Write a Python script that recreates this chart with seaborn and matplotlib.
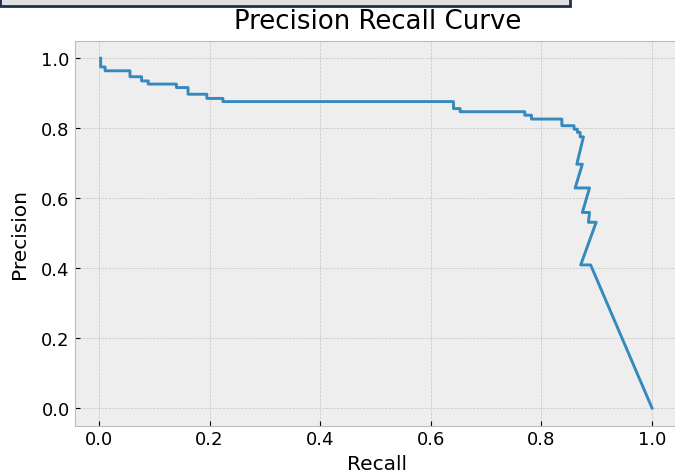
import matplotlib
matplotlib.use("Agg")
import matplotlib.pyplot as plt
from matplotlib.patches import Rectangle
import seaborn as sns
import pandas as pd

# Precision / recall pairs along the curve, in drawing order
recall = [0.003, 0.003, 0.011, 0.011, 0.056, 0.056, 0.077, 0.077, 0.089, 0.089,
          0.140, 0.140, 0.161, 0.161, 0.195, 0.195, 0.224, 0.224, 0.641, 0.641,
          0.653, 0.653, 0.770, 0.770, 0.782, 0.782, 0.837, 0.837, 0.859, 0.859,
          0.865, 0.865, 0.870, 0.870, 0.876, 0.864, 0.874, 0.861, 0.887, 0.874,
          0.887, 0.885, 0.899, 0.871, 0.889, 1.000]
precision = [1.000, 0.975, 0.975, 0.964, 0.964, 0.947, 0.947, 0.935, 0.935, 0.926,
             0.926, 0.916, 0.916, 0.897, 0.897, 0.885, 0.885, 0.876, 0.876, 0.856,
             0.856, 0.847, 0.847, 0.837, 0.837, 0.826, 0.826, 0.807, 0.807, 0.797,
             0.797, 0.788, 0.788, 0.775, 0.775, 0.697, 0.697, 0.629, 0.629, 0.559,
             0.559, 0.531, 0.531, 0.409, 0.409, 0.000]
ticks = [0.0, 0.2, 0.4, 0.6, 0.8, 1.0]

df = pd.DataFrame({"Recall": recall, "Precision": precision})

plt.style.use("bmh")
plt.rcParams["font.size"] = 13
plt.rcParams["grid.color"] = "#c4c4c4"

W, H = 675, 477
fig = plt.figure(figsize=(W / 100, H / 100), dpi=100)

# axes placed in pixel units (right edge runs past the canvas)
left_px, right_px, top_px, bottom_px = 74.5, 680.0, 41.7, 426.5
ax = fig.add_axes([left_px / W, 1 - bottom_px / H,
                   (right_px - left_px) / W, (bottom_px - top_px) / H])

sns.lineplot(data=df, x="Recall", y="Precision", sort=False, estimator=None,
             ax=ax, linewidth=2.1)

ax.set_xlim(-0.0443, 1.0506)
ax.set_ylim(-0.05, 1.05)
ax.set_xticks(ticks)
ax.set_yticks(ticks)
ax.set_title("Precision Recall Curve", pad=9)
ax.set_xlabel("Recall", fontsize=14.5)
ax.set_ylabel("Precision", fontsize=14.5, labelpad=9)

# strip of a framed panel along the top edge
fig.patches.append(Rectangle((0, 1 - 7 / H), 570 / W, 7 / H + 0.01,
                             transform=fig.transFigure, facecolor="#e0e0e0",
                             edgecolor="#1f2f50", linewidth=2))

fig.savefig("out.png", dpi=100)
